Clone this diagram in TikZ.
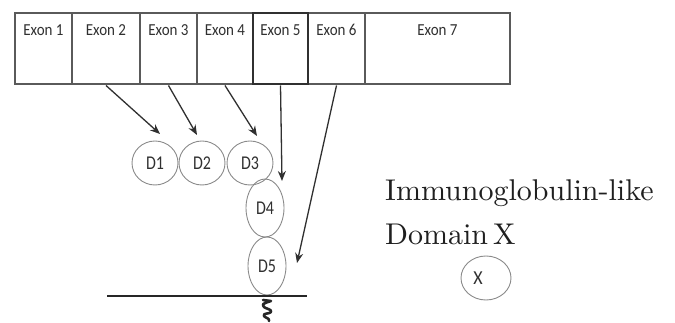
\documentclass[tikz,border=0pt]{standalone}
\usepackage{fontspec}
\usepackage{graphicx}
\newfontfamily\calib{Carlito}
\newfontfamily\legfont{lmroman10-regular.otf}
\usetikzlibrary{arrows.meta,shapes.geometric}
\definecolor{boxgray}{HTML}{5A5A5A}
\definecolor{ringgray}{HTML}{8A8A8A}
\definecolor{inkgray}{HTML}{303030}
\newcommand{\exonname}[1]{\scalebox{1}[1.12]{#1}}
\newcommand{\domname}[1]{\scalebox{1}[1.22]{#1}}
\tikzset{
  exonbox/.style={draw=boxgray, line width=2pt, fill=white, minimum height=71pt,
    inner sep=0pt, anchor=north west},
  exonlabel/.style={font=\calib\fontsize{15}{17}\selectfont, text=inkgray,
    anchor=base, inner sep=0pt},
  ringnode/.style={ellipse, draw=ringgray, line width=0.9pt, inner sep=0pt,
    font=\calib\fontsize{16}{18}\selectfont, text=inkgray},
  mapsto/.style={draw=inkgray, line width=1.3pt, -{Stealth[length=10pt,width=8pt]}},
  legend/.style={anchor=base west, inner sep=0pt,
    font=\legfont\fontsize{30}{36}\selectfont, text=black!88},
}
\begin{document}
\begin{tikzpicture}[x=1pt,y=-1pt]
\useasboundingbox (0,0) rectangle (675,323);

% exon strip
\foreach \n/\l/\r in {1/14/71, 2/71/139, 3/139/196, 4/196/252, 6/307/364, 7/364/509}{
  \pgfmathsetmacro\w{\r-\l}
  \node[exonbox, minimum width=\w pt] (e\n) at (\l,12.5) {};
  \node[exonlabel] at ([yshift=-23pt]e\n.north) {\exonname{Exon \n}};
}
\node[exonbox, draw=inkgray, minimum width=55pt] (e5) at (252,12.5) {};
\node[exonlabel] at ([yshift=-23pt]e5.north) {\exonname{Exon 5}};

% domains
\node[ringnode, minimum width=46pt, minimum height=44pt] (d1) at (155,163) {\domname{D1}};
\node[ringnode, minimum width=46pt, minimum height=44pt] (d2) at (202,163) {\domname{D2}};
\node[ringnode, minimum width=46pt, minimum height=44pt] (d3) at (250,163) {\domname{D3}};
\node[ringnode, minimum width=38pt, minimum height=58pt] (d4) at (265,208) {\domname{D4}};
\node[ringnode, minimum width=38pt, minimum height=58pt] (d5) at (267,266) {\domname{D5}};

% membrane and anchor
\coordinate (m1) at (107,296);
\coordinate (m2) at (307,296);
\draw[line width=2.8pt, draw=black!85] (m1) -- (m2);
\draw[line width=2.6pt, draw=black!85, line cap=round, line join=round]
  (263,300) -- (271,301)
  .. controls (262,304) .. (264,307)
  .. controls (266,309) and (272,309) .. (271,312)
  .. controls (270,314) and (262,313) .. (264,316)
  .. controls (265,318) and (270,318) .. (269,321);

% arrow tips
\coordinate (t1) at (160,134);
\coordinate (t2) at (197,135);
\coordinate (t3) at (257,136);
\coordinate (t4) at (282,181);
\coordinate (t5) at (297,263);
\draw[mapsto] (e2.south) -- (t1);
\draw[mapsto] (e3.south) -- (t2);
\draw[mapsto] (e4.south) -- (t3);
\draw[mapsto] (e5.south) -- (t4);
\draw[mapsto] (e6.south) -- (t5);

% legend
\node[legend] (leg1) at (385,201) {Immunoglobulin-like};
\node[legend] (leg2) at (385,245) {Domain\,X};
\node[ringnode, minimum width=50pt, minimum height=44pt,
  font=\calib\fontsize{18}{20}\selectfont] (dx) at (486,278)
  {\hspace*{-16pt}\scalebox{1}[1.1]{X}};
\end{tikzpicture}
\end{document}
